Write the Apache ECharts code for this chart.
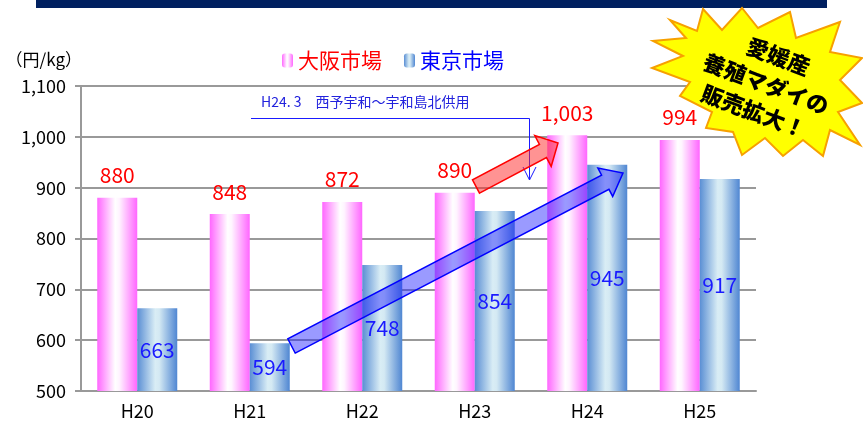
<!DOCTYPE html>
<html>
<head>
<meta charset="utf-8">
<script src="https://cdn.jsdelivr.net/npm/echarts@6/dist/echarts.min.js"></script>
<style>
  html, body { margin: 0; padding: 0; background: #fff; }
  #chart { width: 863px; height: 426px; }
</style>
</head>
<body>
<div id="chart"></div>
<script>
// Yearly average prices of farmed red sea bream (円/kg)
const categories = ['H20', 'H21', 'H22', 'H23', 'H24', 'H25'];
const osakaPrices = [880, 848, 872, 890, 1003, 994];
const tokyoPrices = [663, 594, 748, 854, 945, 917];
const seriesNames = ['大阪市場', '東京市場'];
const yMin = 500, yMax = 1100, yStep = 100;

const FONT = '"Noto Sans CJK JP", "Noto Sans", sans-serif';

function withComma(v) {
  return String(v).replace(/\B(?=(\d{3})+(?!\d))/g, ',');
}

// Polygon for a block arrow from tail to tip
function blockArrow(tail, tip, shaftW, headW, headL) {
  const dx = tip[0] - tail[0], dy = tip[1] - tail[1];
  const len = Math.hypot(dx, dy);
  const ux = dx / len, uy = dy / len;
  const nx = -uy, ny = ux;
  const bx = tip[0] - ux * headL, by = tip[1] - uy * headL;
  const s = shaftW / 2, h = headW / 2;
  return [
    [tail[0] + nx * s, tail[1] + ny * s],
    [bx + nx * s, by + ny * s],
    [bx + nx * h, by + ny * h],
    tip,
    [bx - nx * h, by - ny * h],
    [bx - nx * s, by - ny * s],
    [tail[0] - nx * s, tail[1] - ny * s]
  ];
}

// Outline of the spiky callout in the top-right corner
const burstOutline = [
  [703, 9], [722, 30], [742, 8], [758, 28], [790, 12], [796, 38], [840, 22],
  [830, 52], [862, 58], [840, 80], [862, 103], [838, 112], [860, 145],
  [830, 130], [823, 156], [803, 140], [783, 156], [765, 138], [742, 155],
  [733, 132], [706, 128], [712, 112], [680, 96], [690, 82], [652, 68],
  [683, 56], [653, 41], [686, 38], [670, 20], [697, 31]
];

const osakaColor = {
  type: 'linear', x: 0, y: 0, x2: 1, y2: 0,
  colorStops: [
    { offset: 0, color: '#ff66ff' },
    { offset: 0.45, color: '#ffffff' },
    { offset: 0.55, color: '#fff4ff' },
    { offset: 1, color: '#ff66ff' }
  ]
};
const tokyoColor = {
  type: 'linear', x: 0, y: 0, x2: 1, y2: 0,
  colorStops: [
    { offset: 0, color: '#5a8ed4' },
    { offset: 0.45, color: '#d9edf5' },
    { offset: 0.55, color: '#d4e9f3' },
    { offset: 1, color: '#4f86d2' }
  ]
};

const chart = echarts.init(document.getElementById('chart'), null, { renderer: 'canvas' });

chart.setOption({
  animation: false,
  textStyle: { fontFamily: FONT },
  grid: { left: 81, right: 107, top: 86, bottom: 35 },
  legend: {
    left: 277, top: 45,
    itemWidth: 11, itemHeight: 14, itemGap: 22,
    textStyle: { fontSize: 21, fontFamily: FONT },
    data: [
      { name: seriesNames[0], textStyle: { color: '#ff0000' } },
      { name: seriesNames[1], textStyle: { color: '#0000ff' } }
    ]
  },
  xAxis: {
    type: 'category',
    data: categories,
    axisLine: { lineStyle: { color: '#999999', width: 2 } },
    axisTick: { alignWithLabel: false, length: 6, lineStyle: { color: '#999999', width: 2 } },
    axisLabel: { color: '#000', fontSize: 18, margin: 11, fontFamily: FONT }
  },
  yAxis: {
    type: 'value',
    min: yMin, max: yMax, interval: yStep,
    name: '（円/kg）',
    nameGap: 18,
    nameTextStyle: { color: '#000', fontSize: 17, align: 'right', padding: [0, -1, 0, 0], fontFamily: FONT },
    axisLine: { show: true, lineStyle: { color: '#999999', width: 2 } },
    axisTick: { show: true, length: 6, lineStyle: { color: '#999999', width: 2 } },
    axisLabel: { color: '#000', fontSize: 18, margin: 15, formatter: withComma, fontFamily: FONT },
    splitLine: { lineStyle: { color: '#999999', width: 2 } }
  },
  series: [
    {
      name: seriesNames[0], type: 'bar', data: osakaPrices,
      barWidth: 40, barGap: '0%',
      itemStyle: { color: osakaColor },
      label: {
        show: true, position: 'top', distance: 12,
        color: '#ff0000', fontSize: 21, fontFamily: FONT,
        formatter: p => withComma(p.value)
      }
    },
    {
      name: seriesNames[1], type: 'bar', data: tokyoPrices,
      barWidth: 40, barGap: '0%',
      itemStyle: { color: tokyoColor },
      label: {
        show: true, position: 'inside',
        color: '#1a1aff', fontSize: 21, fontFamily: FONT,
        formatter: p => withComma(p.value)
      }
    }
  ],
  graphic: [
    // header band
    { type: 'rect', shape: { x: 36, y: 0, width: 791, height: 8 }, style: { fill: '#002060' }, z: 100 },
    // opening note with pointer
    {
      type: 'text', left: 261, top: 95, z: 100,
      style: { text: 'H24. 3　西予宇和～宇和島北供用', fill: '#2222dd', font: '14px ' + FONT }
    },
    {
      type: 'polyline', z: 100,
      shape: { points: [[251, 118.5], [529.5, 118.5], [529.5, 180]] },
      style: { stroke: '#1a1aff', lineWidth: 1, fill: null }
    },
    {
      type: 'polyline', z: 100,
      shape: { points: [[523, 167], [529.5, 180], [536, 167]] },
      style: { stroke: '#1a1aff', lineWidth: 1, fill: null }
    },
    // trend arrows
    {
      type: 'polygon', z: 100,
      shape: { points: blockArrow([476, 186.5], [558, 143], 15, 35, 17) },
      style: { fill: 'rgba(255,40,40,0.5)', stroke: '#ff0000', lineWidth: 1.5 }
    },
    {
      type: 'polygon', z: 100,
      shape: { points: blockArrow([291.5, 346], [623, 173], 16, 32, 20) },
      style: { fill: 'rgba(30,30,255,0.45)', stroke: '#0000ff', lineWidth: 1.5 }
    },
    // burst callout
    {
      type: 'polygon', z: 110,
      shape: { points: burstOutline },
      style: { fill: '#ffff00', stroke: '#f7a000', lineWidth: 2, lineJoin: 'miter' }
    },
    {
      type: 'group', z: 120, x: 766, y: 84, rotation: -0.36,
      children: [
        { type: 'text', z: 120, style: { text: '愛媛産', x: 2, y: -30, align: 'center', verticalAlign: 'middle', fill: '#000', font: '900 22px ' + FONT } },
        { type: 'text', z: 120, style: { text: '養殖マダイの', x: 0, y: 0, align: 'center', verticalAlign: 'middle', fill: '#000', font: '900 22px ' + FONT } },
        { type: 'text', z: 120, style: { text: '販売拡大！', x: -2, y: 30, align: 'center', verticalAlign: 'middle', fill: '#000', font: '900 22px ' + FONT } }
      ]
    }
  ]
});
</script>
</body>
</html>
